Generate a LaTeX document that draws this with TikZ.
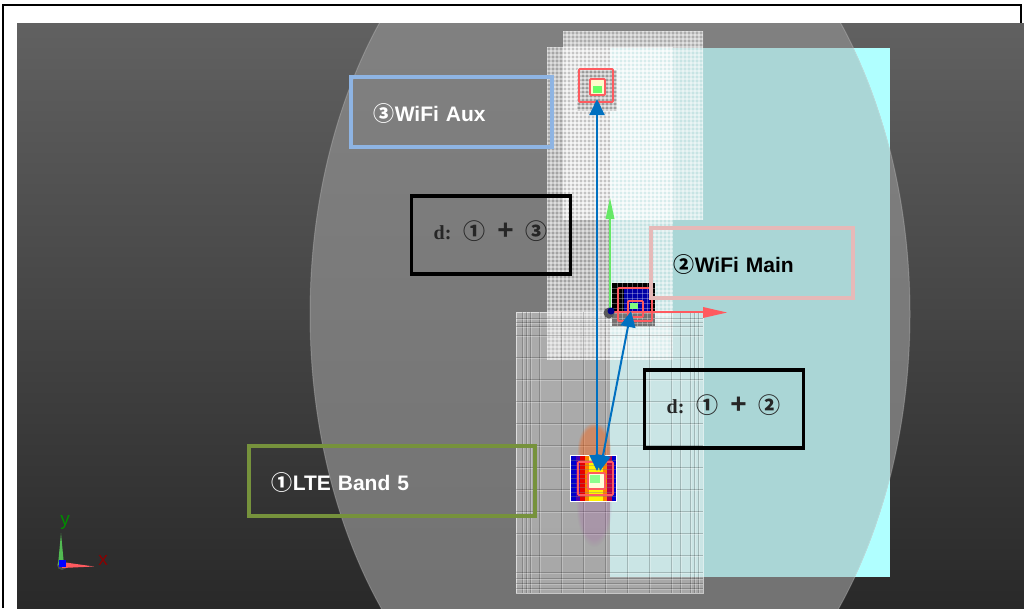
\documentclass[tikz,border=0pt]{standalone}
\usepackage{fontspec}
\usepackage{tikz}
\usetikzlibrary{arrows.meta,fadings}
\setsansfont{Liberation Sans}
\setmainfont{Liberation Serif}
\newfontfamily\circfont{Noto Sans CJK SC}
\definecolor{auxblue}{HTML}{8EB4E3}
\definecolor{mainpink}{HTML}{E6B9B8}
\definecolor{lteolive}{HTML}{76923C}
\definecolor{linkblue}{HTML}{0070C0}
\definecolor{planecyan}{HTML}{B0FFFF}
\definecolor{planeteal}{HTML}{AAD6D6}
\definecolor{hotred}{HTML}{FF5A5F}
\definecolor{axisgreen}{HTML}{66E866}
\newcommand{\distsum}[2]{d:\hspace{12pt}{\circfont\fontsize{22}{22}\selectfont #1}\hspace{12pt}{\sffamily\fontsize{28}{28}\selectfont +}\hspace{12pt}{\circfont\fontsize{22}{22}\selectfont #2}\hspace{10pt}}
\newcommand{\portname}[2]{{\circfont #1}#2}
\tikzset{
	namebox/.style={draw, line width=3.5pt, inner ysep=0pt, inner xsep=23pt, minimum height=70pt, text height=30pt, text depth=10pt, font=\sffamily\bfseries\fontsize{21}{23}\selectfont, align=left, anchor=north west},
	distbox/.style={draw=black, line width=3.5pt, minimum width=159pt, minimum height=78pt, text height=25pt, text depth=15pt, text=black!85, font=\rmfamily\bfseries\fontsize{20}{22}\selectfont, anchor=north west},
	linkarrow/.style={draw=linkblue, line width=2pt, {Triangle[length=16pt,width=15pt]}-{Triangle[length=16pt,width=15pt]}},
	meshfill/.style={fill=white, fill opacity=#1},
	hotbox/.style={draw=hotred, line width=1.8pt, rounded corners=1pt},
}
\begin{document}
\begin{tikzpicture}[x=1pt,y=-1pt]
\useasboundingbox (0,0) rectangle (1024,608);
\fill[white] (0,0) rectangle (1024,608);
\draw[line width=2pt] (3,608) -- (3,5) -- (1021,5) -- (1021,23);
\shade[top color=black!62, bottom color=black!84] (17,23) rectangle (1024,608);

\fill[planecyan] (610,48) rectangle (890,577);
\begin{scope}
\clip (17,23) rectangle (1024,608);
\fill[black!45, opacity=0.75] (610,314) ellipse (300 and 455);
\begin{scope}
\clip (610,314) ellipse (300 and 455);
\fill[planeteal] (610,48) rectangle (890,577);
\end{scope}
\draw[white, opacity=0.2, line width=1pt] (610,314) ellipse (300 and 455);
\end{scope}

\fill[meshfill=0.3] (547,47) rectangle (673,360);
\begin{scope}
\clip (547,47) rectangle (673,360);
\foreach \xx in {547,551,...,673} \draw[white, opacity=0.4, line width=1.5pt] (\xx,47) -- (\xx,360);
\foreach \yy in {47,51,...,360} \draw[white, opacity=0.4, line width=1.5pt] (547,\yy) -- (673,\yy);
\end{scope}
\fill[meshfill=0.35] (563,31) rectangle (703,220);
\begin{scope}
\clip (563,31) rectangle (703,220);
\foreach \xx in {563,567,...,703} \draw[white, opacity=0.4, line width=1.5pt] (\xx,31) -- (\xx,220);
\foreach \yy in {31,35,...,220} \draw[white, opacity=0.4, line width=1.5pt] (563,\yy) -- (703,\yy);
\end{scope}
\fill[meshfill=0.38] (516,312) rectangle (703,593);
\draw[white, opacity=0.6, line width=1pt] (516,312) rectangle (703,593);
\begin{scope}
\clip (516,312) rectangle (703,593);
\foreach \xx in {522,526,530,539,561,583,605,627,649,671,680,690,694,698} {
	\draw[black, opacity=0.2, line width=0.7pt] (\xx,312) -- (\xx,593);
	\draw[white, opacity=0.25, line width=0.7pt] (\xx+1.5,312) -- (\xx+1.5,593);
}
\foreach \yy in {318,322,326,335,357,379,401,423,445,467,489,511,533,555,572,578,583,588} {
	\draw[black, opacity=0.2, line width=0.7pt] (516,\yy) -- (703,\yy);
	\draw[white, opacity=0.25, line width=0.7pt] (516,\yy+1.5) -- (703,\yy+1.5);
}
\end{scope}

\fill[orange!70!red, opacity=0.4, path fading=circle with fuzzy edge 20 percent] (594,450) ellipse (17 and 28);
\fill[violet!70, opacity=0.2, path fading=circle with fuzzy edge 20 percent] (594,505) ellipse (18 and 42);
\fill[white] (570,455) rectangle (617,502);
\foreach \xx/\heat in {571/blue!80!black,575.5/blue!70!red,580/red!90!black,584.5/orange,589/yellow,593.5/yellow,598/yellow,602.5/orange,607/red!70!blue,611.5/blue!80!black}
	\fill[\heat] (\xx,456) rectangle (\xx+4.5,501);
\fill[white, opacity=0.5] (589,456) rectangle (602,462);
\foreach \yy in {460.5,465,...,500} \draw[black!50, opacity=0.4, line width=0.5pt] (571,\yy) -- (616,\yy);
\fill[white!85!yellow] (588,473) rectangle (605,489);
\fill[green!45!white] (590,475) rectangle (600,483);
\draw[hotbox] (578,462) rectangle (613,495);
\draw[hotbox] (588,473) rectangle (605,489);

\fill[black, opacity=0.35] (577,70) rectangle (617,111);
\foreach \xx in {577,581,...,617} \draw[white, opacity=0.5, line width=1.5pt] (\xx,70) -- (\xx,111);
\foreach \yy in {70,74,...,111} \draw[white, opacity=0.5, line width=1.5pt] (577,\yy) -- (617,\yy);
\fill[white!80!yellow] (590,79) rectangle (605,95);
\fill[green!60!white] (593,86) rectangle (602,93);
\draw[hotbox] (579,69) rectangle (613,102);
\draw[hotbox] (590,79) rectangle (605,95);

\fill[black!55] (612,310) rectangle (655,326);
\fill[black] (612,283) rectangle (655,312);
\fill[blue!65!black] (624,287) rectangle (650,312);
\foreach \xx in {617,622,...,652} \draw[white, opacity=0.3, line width=0.6pt] (\xx,283) -- (\xx,326);
\foreach \yy in {288,293,...,323} \draw[white, opacity=0.3, line width=0.6pt] (612,\yy) -- (655,\yy);
\fill[green!50!white] (630,303) rectangle (638,309);
\draw[hotbox] (618,288) rectangle (652,321);
\draw[hotbox] (628,301) rectangle (643,317);

\draw[axisgreen, line width=1.2pt] (610,312) -- (610,216);
\fill[axisgreen] (610,198) -- (614.5,219) -- (605.5,219) -- cycle;
\draw[hotred, line width=1.2pt] (612,312) -- (705,312);
\fill[hotred] (727,312.5) -- (703,307) -- (703,318) -- cycle;
\fill[black!65] (609,313) circle (5.5);
\fill[blue!55!black] (611,311) circle (3.5);

\coordinate (ltept) at (597,471);
\coordinate (auxpt) at (597,99);
\coordinate (mainpt) at (631,311);
\coordinate (ltepttwo) at (600,471);
\draw[linkarrow] (ltept) -- (auxpt);
\draw[linkarrow] (ltepttwo) -- (mainpt);

\node[namebox, draw=auxblue, text=white, minimum width=201pt, text width=155pt] (wifiaux) at (349,75) {\portname{③}{WiFi Aux}};
\node[namebox, draw=mainpink, text=black, minimum width=202pt, text width=156pt] (wifimain) at (649,226) {\portname{②}{WiFi Main}};
\node[namebox, draw=lteolive, text=white, minimum width=286pt, text width=240pt] (lteband) at (247,444) {\portname{①}{LTE Band 5}};
\node[distbox] (distaux) at (409.5,194) {\distsum{①}{③}};
\node[distbox] (distmain) at (642.5,368) {\distsum{①}{②}};

\fill[black!60, opacity=0.6] (62,565) circle (5);
\fill[axisgreen!80!black] (61,533) -- (64,565) -- (58,565) -- cycle;
\fill[hotred] (94,566.5) -- (62,562) -- (62,568) -- cycle;
\fill[blue] (59,560) rectangle (66,567);
\node[green!55!black, font=\sffamily\fontsize{19}{19}\selectfont, inner sep=0pt] (yaxis) at (65,522) {y};
\node[red!55!black, font=\sffamily\fontsize{19}{19}\selectfont, inner sep=0pt] (xaxis) at (103,560) {x};
\end{tikzpicture}
\end{document}
